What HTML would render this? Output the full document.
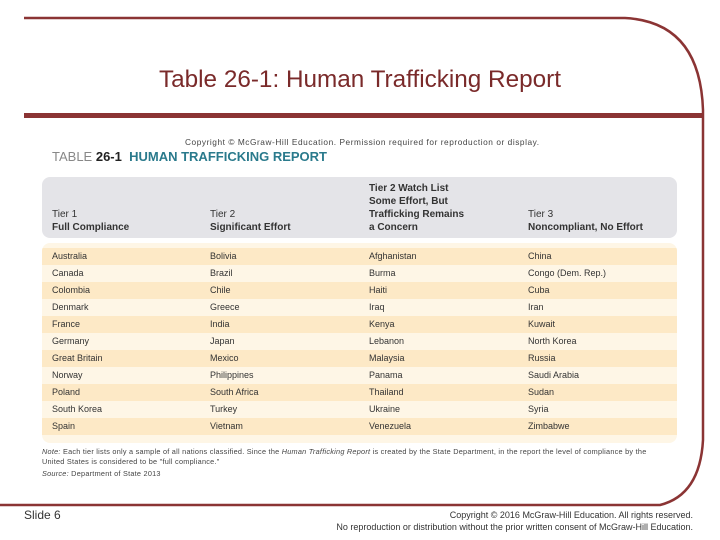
<!DOCTYPE html>
<html><head><meta charset="utf-8"><style>
body{margin:0;width:720px;height:540px;background:#fff;position:relative;overflow:hidden;font-family:"Liberation Sans",sans-serif}
.a{position:absolute;white-space:nowrap}
#hdr{position:absolute;left:42px;top:177px;width:635px;height:61px;background:#e4e4e8;border-radius:8px}
#body{position:absolute;left:42px;top:243px;width:635px;height:200px;background:#fef6e6;border-radius:8px;overflow:hidden}
.row{position:absolute;left:0;width:635px;height:17px;font-size:9px;color:#333}
.row span{position:absolute;top:3px}
.h{font-size:10px;color:#333;line-height:13px}
</style></head><body>
<svg class="a" style="left:0;top:0" width="720" height="540">
<path d="M24 18 H625 Q700 22 703 110 V440 Q700 495 660 505 H0" fill="none" stroke="#8b3434" stroke-width="2.5"/>
<rect x="24" y="113" width="680" height="5" fill="#8b3434"/>
</svg>
<div class="a" style="left:0;width:720px;text-align:center;top:66px;font-size:24.3px;color:#7a2a2a">Table 26-1: Human Trafficking Report</div>
<div class="a" style="left:185px;top:137px;font-size:8.3px;color:#444;letter-spacing:0.55px">Copyright © McGraw-Hill Education. Permission required for reproduction or display.</div>
<div class="a" style="left:52px;top:149px;font-size:13px;color:#888">TABLE <b style="color:#222">26-1</b> &nbsp;<b style="color:#2a7a8c">HUMAN TRAFFICKING REPORT</b></div>
<div id="hdr">
<div class="a h" style="left:10px;top:31px">Tier 1<br><b>Full Compliance</b></div>
<div class="a h" style="left:168px;top:31px">Tier 2<br><b>Significant Effort</b></div>
<div class="a h" style="left:327px;top:5px"><b>Tier 2 Watch List<br>Some Effort, But<br>Trafficking Remains<br>a Concern</b></div>
<div class="a h" style="left:486px;top:31px">Tier 3<br><b>Noncompliant, No Effort</b></div>
</div>
<div id="body"></div>
<div class="a" style="left:42px;top:447px;font-size:7.3px;color:#444;line-height:10px;letter-spacing:0.25px"><i>Note:</i> Each tier lists only a sample of all nations classified. Since the <i>Human Trafficking Report</i> is created by the State Department, in the report the level of compliance by the<br>United States is considered to be "full compliance."</div>
<div class="a" style="left:42px;top:469px;font-size:7.3px;color:#444;letter-spacing:0.25px"><i>Source:</i> Department of State 2013</div>
<div class="a" style="left:24px;top:508px;font-size:12px;color:#333">Slide 6</div>
<div class="a" style="right:27px;top:509px;font-size:9px;color:#333;text-align:right;line-height:12px">Copyright © 2016 McGraw-Hill Education. All rights reserved.<br>No reproduction or distribution without the prior written consent of McGraw-Hill Education.</div>
<script>
const tier1=["Australia","Canada","Colombia","Denmark","France","Germany","Great Britain","Norway","Poland","South Korea","Spain"];
const tier2=["Bolivia","Brazil","Chile","Greece","India","Japan","Mexico","Philippines","South Africa","Turkey","Vietnam"];
const watch=["Afghanistan","Burma","Haiti","Iraq","Kenya","Lebanon","Malaysia","Panama","Thailand","Ukraine","Venezuela"];
const tier3=["China","Congo (Dem. Rep.)","Cuba","Iran","Kuwait","North Korea","Russia","Saudi Arabia","Sudan","Syria","Zimbabwe"];
const b=document.getElementById('body');
const cols=[tier1,tier2,watch,tier3];const xs=[10,168,327,486];
for(let i=0;i<tier1.length;i++){
const r=document.createElement('div');r.className='row';


r.style.top=(5+i*17)+'px';r.style.background=i%2?'#fef6e6':'#fde9c6';
cols.forEach((c,j)=>{const s=document.createElement('span');


s.style.left=xs[j]+'px';s.textContent=c[i];r.appendChild(s);});
b.appendChild(r);}
</script>
</body></html>
